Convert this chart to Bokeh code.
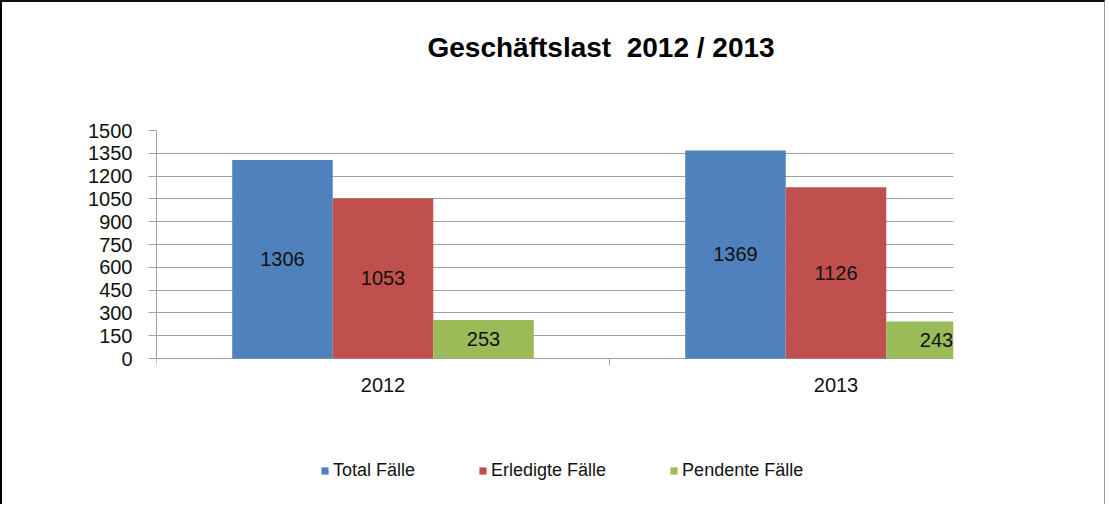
from bokeh.plotting import figure
from bokeh.models import Range1d, FixedTicker, Legend, LegendItem, ColumnDataSource, Title
from bokeh.core.properties import value
from bokeh.embed import file_html
from bokeh.resources import INLINE

# ---- data ----
years = ["2012", "2013"]
series = ["Total Fälle", "Erledigte Fälle", "Pendente Fälle"]
total = [1306, 1369]
erledigt = [1053, 1126]
pendent = [253, 243]
colors = ["#4F81BD", "#C0504D", "#9BBB59"]
y_ticks = list(range(0, 1501, 150))
y_max = 1500
title_text = "Geschäftslast\u00a0 2012 / 2013"

FONT = "Liberation Sans"

# ---- layout (pixels) ----
W, H = 1105, 504
left_b, top_b, bottom_b = 154, 128, 2
frame_w = 797
axis_px = 228                     # pixel height of 0..1500
frame_h = H - top_b - bottom_b
u_per_px = y_max / axis_px
y_start = -(frame_h - axis_px) * u_per_px

p = figure(width=W, height=H, output_backend="svg", toolbar_location=None,
           x_axis_type=None,
           x_range=Range1d(0, frame_w / 453.0), y_range=Range1d(y_start, y_max),
           min_border_left=left_b, min_border_top=top_b,
           min_border_right=W - left_b - frame_w, min_border_bottom=bottom_b)
p.styles = {"border-left": "2px solid #000", "border-top": "2px solid #111",
            "border-right": "1px solid #999"}
p.outline_line_color = None
p.background_fill_color = "white"
p.border_fill_color = "white"

bw = 0.2219
offsets = [-bw, 0.0, bw]
vals = [total, erledigt, pendent]
items = []
for k, (name, v, c) in enumerate(zip(series, vals, colors)):
    xs = [i + 0.5 + offsets[k] for i in range(len(years))]
    src = ColumnDataSource(dict(x=xs, top=v, mid=[t / 2 for t in v],
                                lab=[str(t) for t in v]))
    r = p.vbar(x="x", top="top", width=bw, bottom=0, source=src,
               fill_color=c, line_color=None)
    p.text(x="x", y="mid", text="lab", source=src, text_align="center",
           text_baseline="middle", text_font=value(FONT),
           text_font_size="20px", text_color="#111")
    items.append(LegendItem(label=name, renderers=[r]))

# category axis: boundary ticks and year labels below the zero line
bounds_x = list(range(len(years) + 1))
p.ray(x=bounds_x, y=[0] * len(bounds_x), length=7, length_units="screen",
      angle=-1.5708, line_color="#A0A0A0", line_width=1)
cat_src = ColumnDataSource(dict(x=[i + 0.5 for i in range(len(years))],
                                y=[-26 * u_per_px] * len(years), t=years))
p.text(x="x", y="y", text="t", source=cat_src, text_align="center",
       text_baseline="middle", text_font=value(FONT), text_font_size="20px",
       text_color="#111")

# title (spacer keeps it high above the frame)
p.add_layout(Title(text="\u00a0", text_font_size="1px", standoff=60), "above")
p.title.text = title_text
p.title.align = "left"
p.title.text_font = FONT
p.title.text_font_size = "28px"
p.title.text_font_style = "bold"
p.title.text_color = "#000"
p.title.standoff = 10
p.title.offset = 271

# y axis
ya = p.yaxis[0]
ya.ticker = FixedTicker(ticks=y_ticks)
ya.bounds = (0, y_max)
ya.axis_line_color = "#A0A0A0"
ya.major_tick_line_color = "#A0A0A0"
ya.major_tick_out = 8
ya.major_tick_in = 0
ya.minor_tick_line_color = None
ya.major_label_standoff = 16
ya.major_label_text_font = FONT
ya.major_label_text_font_size = "20px"
ya.major_label_text_color = "#111"

p.ygrid.grid_line_color = "#A0A0A0"
p.ygrid.ticker = FixedTicker(ticks=y_ticks)

legend = Legend(items=items, orientation="horizontal", location=(164, 23),
                glyph_width=9, glyph_height=9, label_standoff=4, spacing=63,
                padding=0, margin=0, border_line_color=None,
                background_fill_alpha=0, label_text_font=FONT,
                label_text_font_size="18px", label_text_color="#111")
p.add_layout(legend, "center")

open("out.html", "w").write(file_html(p, INLINE))
